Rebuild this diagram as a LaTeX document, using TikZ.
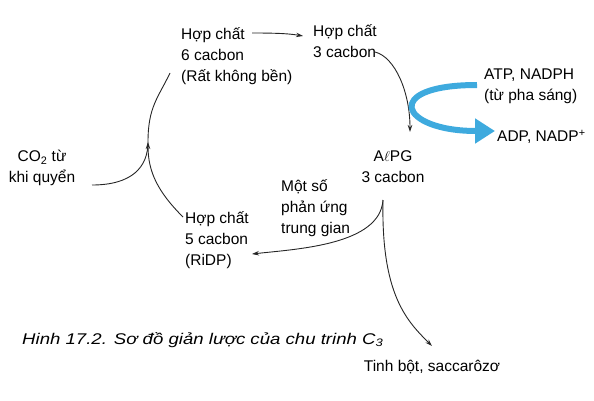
\documentclass[tikz,border=0pt]{standalone}
\usepackage{fontspec}
\setmainfont{Liberation Sans}
\usepackage{xcolor}
\usetikzlibrary{arrows.meta}

\definecolor{flowblue}{RGB}{62,170,222}

\begin{document}
\begin{tikzpicture}[
  x=1pt, y=-1pt,
  lbl/.style={inner sep=0pt, align=left, anchor=west, font=\fontsize{15.5}{21}\selectfont},
  arrow/.style={-{Stealth[length=7pt,width=4.5pt]}, line width=0.9pt, black!85},
  line/.style={line width=0.9pt, black!85},
  light/.style={-{Triangle[length=20pt,width=24pt]}, line width=6pt, flowblue}
]
  \useasboundingbox (0,0) rectangle (594,401);

  \node[lbl] (six)   at (181,56)  {Hợp chất\\6 cacbon\\(Rất không bền)};
  \node[lbl] (three) at (313,41)  {Hợp chất\\3 cacbon};
  \node[lbl] (atp)   at (484,86)  {ATP, NADPH\\(từ pha sáng)};
  \node[lbl] (adp)   at (497,137) {ADP, NADP\textsuperscript{+}};
  \node[lbl, align=center, anchor=center] (apg) at (393,167) {A$\ell$PG\\3 cacbon};
  \node[lbl, align=center, anchor=center] (co2) at (42,168)  {CO\textsubscript{2} từ\\khi quyển};
  \node[lbl] (five)  at (185,240) {Hợp chất\\5 cacbon\\(RiDP)};
  \node[lbl] (inter) at (281,208) {Một số\\phản ứng\\trung gian};
  \node[lbl, anchor=center] (starch) at (432,367) {Tinh bột, saccarôzơ};
  \node[lbl, font=\fontsize{15.5}{21}\selectfont\itshape, xscale=1.2] (caption) at (22,340)
    {Hinh 17.2. Sơ đồ giản lược của chu trinh C\textsubscript{3}};

  \coordinate (merge) at (148,142);

  % cycle
  \draw[arrow] ([xshift=71pt,yshift=23pt]six.west) .. controls +(30,0) and +(-12,-2) .. ([xshift=-10pt,yshift=5pt]three.west);
  \draw[arrow] ([xshift=62pt,yshift=-11pt]three.west) .. controls +(20,5) and +(0,-40) .. ([xshift=17pt,yshift=35pt]apg.center);
  \draw[arrow] ([xshift=-10pt,yshift=-33pt]apg.center) .. controls +(-3,45) and +(45,-5) .. ([xshift=67pt,yshift=-14pt]five.west);
  \draw[arrow] ([xshift=-2pt,yshift=23pt]five.west) .. controls +(-25,-25) and +(0,30) .. (merge);
  \draw[line] ([xshift=50pt,yshift=-17pt]co2.center) .. controls +(40,0) and +(0,25) .. (merge);
  \draw[line] (merge) .. controls +(0,-35) and +(-12,25) .. ([xshift=-11pt,yshift=-17pt]six.west);

  % products
  \draw[arrow] ([xshift=-10pt,yshift=-33pt]apg.center) .. controls +(-2,95) and +(-25,-25) .. ([yshift=21pt]starch.center);

  % light reaction input
  \draw[light] ([xshift=-7pt,yshift=1pt]atp.west) .. controls +(-96,0) and +(-96,0) .. ([xshift=-2pt,yshift=6pt]adp.west);
\end{tikzpicture}
\end{document}
